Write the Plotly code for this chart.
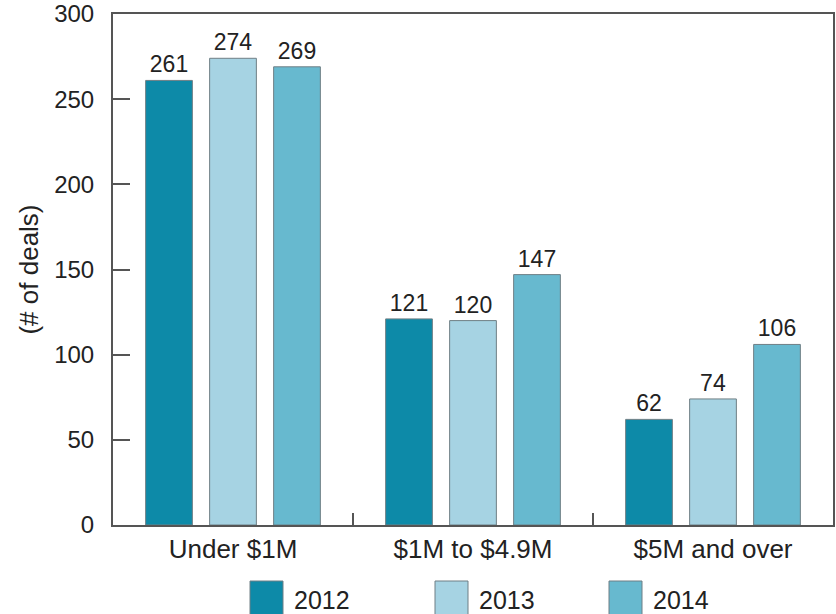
import plotly.graph_objects as go

categories = ["Under $1M", "$1M to $4.9M", "$5M and over"]
years = ["2012", "2013", "2014"]
values_2012 = [261, 121, 62]
values_2013 = [274, 120, 74]
values_2014 = [269, 147, 106]
colors = ["#0d8aa8", "#a6d3e3", "#67b9cf"]
y_ticks = [0, 50, 100, 150, 200, 250, 300]

series = [values_2012, values_2013, values_2014]
FONT = "Arial, Liberation Sans, sans-serif"

fig = go.Figure()
for name, vals, col in zip(years, series, colors):
    fig.add_trace(go.Bar(
        x=categories, y=vals, name=name,
        marker=dict(color=col, line=dict(color="#6f7f85", width=1)),
        text=[str(v) for v in vals], textposition="outside",
        textfont=dict(size=23, color="#222222", family=FONT),
        constraintext="none",
        cliponaxis=False, showlegend=False,
    ))

# Legend drawn as large squares + labels below the plot
legend_x = [250, 435, 609]
for name, col, lx in zip(years, colors, legend_x):
    fig.add_shape(type="rect", xref="paper", yref="paper",
                  x0=(lx - 113) / 720, x1=(lx + 33 - 113) / 720,
                  y0=-(581 - 525) / 511, y1=-(616 - 525) / 511,
                  fillcolor=col, line=dict(color="#6f7f85", width=1))
    fig.add_annotation(xref="paper", yref="paper",
                       x=(lx + 42 - 113) / 720, y=-(600 - 525) / 511,
                       text=name, showarrow=False, xanchor="left", yanchor="middle",
                       font=dict(size=25, color="#222222", family=FONT))

fig.update_layout(
    width=836, height=614,
    margin=dict(l=113, r=3, t=14, b=89),
    paper_bgcolor="white", plot_bgcolor="white",
    barmode="group", bargap=0.2, bargroupgap=0.27,
    font=dict(family=FONT, size=24, color="#222222"),
    showlegend=False,
)
fig.update_yaxes(
    range=[0, 300], tickvals=y_ticks, ticks="inside", ticklen=17, tickwidth=2,
    tickcolor="#555555", showgrid=False, zeroline=False,
    showline=True, linecolor="#555555", linewidth=2, mirror=True,
    ticklabelstandoff=12, automargin=False,
    title=dict(text="(# of deals)", font=dict(size=26, family=FONT), standoff=8),
    tickfont=dict(size=24, family=FONT, color="#222222"),
)
fig.update_xaxes(
    ticks="inside", tickson="boundaries", ticklen=12, tickwidth=2, tickcolor="#555555",
    showgrid=False, showline=True, linecolor="#555555", linewidth=2, mirror=True,
    automargin=False,
    tickfont=dict(size=26, family=FONT, color="#222222"),
)

fig.write_html("out.html")
